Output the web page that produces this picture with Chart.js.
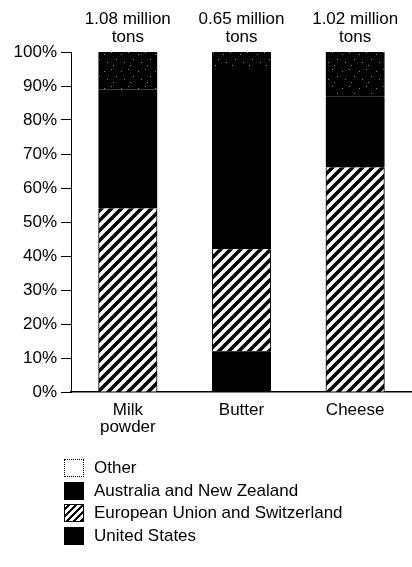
<!DOCTYPE html>
<html>
<head>
<meta charset="utf-8">
<script src="https://cdn.jsdelivr.net/npm/chart.js@4/dist/chart.umd.min.js"></script>
<style>
  html, body { margin: 0; padding: 0; background: #fff; }
  #wrap { position: relative; width: 412px; height: 567px; }
  #legend { position: absolute; left: 64px; top: 457px; font: 17px "Liberation Sans", Arial, sans-serif; color: #000; }
  .item { height: 22.5px; display: flex; align-items: center; }
  .box { width: 18px; height: 16px; border: 1px solid #000; margin-right: 10px; box-sizing: content-box; }
</style>
</head>
<body>
<div id="wrap">
  <canvas id="chart" width="412" height="567"></canvas>
  <div id="legend"></div>
</div>
<script>
// data (share of world exports, %)
const categories = [["Milk", "powder"], "Butter", "Cheese"];
const topLabels = [["1.08 million", "tons"], ["0.65 million", "tons"], ["1.02 million", "tons"]];
const unitedStates = [0, 12, 0];
const euSwitzerland = [54, 30, 66];
const australiaNZ = [35, 53, 21];
const other = [11, 5, 13];
const yTicks = [0, 10, 20, 30, 40, 50, 60, 70, 80, 90, 100];

const FONT = { family: '"Liberation Sans", Arial, sans-serif', size: 17, lineHeight: 1.05 };

// diagonal hatch used for the EU segment
function makeHatch() {
    const c = document.createElement("canvas");
    c.width = 10; c.height = 10;
    const g = c.getContext("2d");
    g.fillStyle = "#fff";
    g.fillRect(0, 0, 10, 10);
    g.strokeStyle = "#000";
    g.lineWidth = 3.6;
    g.beginPath();
    g.moveTo(-5, 5); g.lineTo(5, -5);
    g.moveTo(0, 10); g.lineTo(10, 0);
    g.moveTo(5, 15); g.lineTo(15, 5);
    g.stroke();
    return g.createPattern(c, "repeat");
}

// black with a few light specks, like the scanned "Other" band
function makeSpeckle() {
    const c = document.createElement("canvas");
    c.width = 17; c.height = 17;
    const g = c.getContext("2d");
    g.fillStyle = "#000";
    g.fillRect(0, 0, 17, 17);
    g.fillStyle = "#8a8a8a";
    [[2, 3], [9, 1], [14, 8], [5, 11], [11, 14]].forEach(p => g.fillRect(p[0], p[1], 1, 1));
    return g.createPattern(c, "repeat");
}

const ctx = document.getElementById("chart").getContext("2d");
const hatch = makeHatch();
const speckle = makeSpeckle();

const barStyle = {
    borderColor: "#000",
    borderWidth: { left: 1, right: 1, top: 0, bottom: 0 },
    borderSkipped: false,
    inflateAmount: 0.6,
    barPercentage: 0.51,
    categoryPercentage: 1
};

new Chart(ctx, {
    type: "bar",
    data: {
        labels: categories,
        datasets: [
            Object.assign({ label: "United States", data: unitedStates, backgroundColor: "#000" }, barStyle),
            Object.assign({ label: "European Union and Switzerland", data: euSwitzerland, backgroundColor: hatch }, barStyle),
            Object.assign({ label: "Australia and New Zealand", data: australiaNZ, backgroundColor: "#000" }, barStyle),
            Object.assign({ label: "Other", data: other, backgroundColor: speckle }, barStyle)
        ]
    },
    options: {
        responsive: false,
        devicePixelRatio: 1,
        animation: false,
        layout: { padding: { top: 0, left: 0, right: 0, bottom: 130 } },
        plugins: { legend: { display: false }, tooltip: { enabled: false } },
        scales: {
            x: {
                stacked: true,
                grid: { display: false, drawTicks: false },
                border: { display: true, color: "#000", width: 1.5 },
                ticks: { color: "#000", font: FONT, padding: 9, maxRotation: 0 },
                afterFit: s => { s.height = 45; }
            },
            xTop: {
                type: "category",
                position: "top",
                labels: topLabels,
                grid: { display: false, drawTicks: false },
                border: { display: false },
                ticks: { color: "#000", font: FONT, padding: 6, maxRotation: 0 },
                afterFit: s => { s.height = 52; }
            },
            y: {
                stacked: true,
                min: 0,
                max: 100,
                afterBuildTicks: s => { s.ticks = yTicks.map(v => ({ value: v })); },
                grid: { drawOnChartArea: false, drawTicks: true, tickLength: 10, color: "#000", lineWidth: 1 },
                border: { display: true, color: "#000", width: 1 },
                ticks: { color: "#000", font: FONT, padding: 4, callback: v => v + "%" },
                afterFit: s => { s.width = 71; }
            }
        }
    }
});

// legend, top to bottom as in the figure
const legendItems = [
    { label: "Other", bg: "#fff" },
    { label: "Australia and New Zealand", bg: "#000" },
    { label: "European Union and Switzerland", bg: "repeating-linear-gradient(-45deg, #000 0 2.5px, #fff 2.5px 5px)" },
    { label: "United States", bg: "#000" }
];
const legendEl = document.getElementById("legend");
legendItems.forEach(it => {
    const row = document.createElement("div");
    row.className = "item";
    const box = document.createElement("span");
    box.className = "box";
    box.style.background = it.bg;
    if (it.label === "Other") box.style.borderStyle = "dotted";
    const txt = document.createElement("span");
    txt.textContent = it.label;
    row.appendChild(box);
    row.appendChild(txt);
    legendEl.appendChild(row);
});
</script>
</body>
</html>
